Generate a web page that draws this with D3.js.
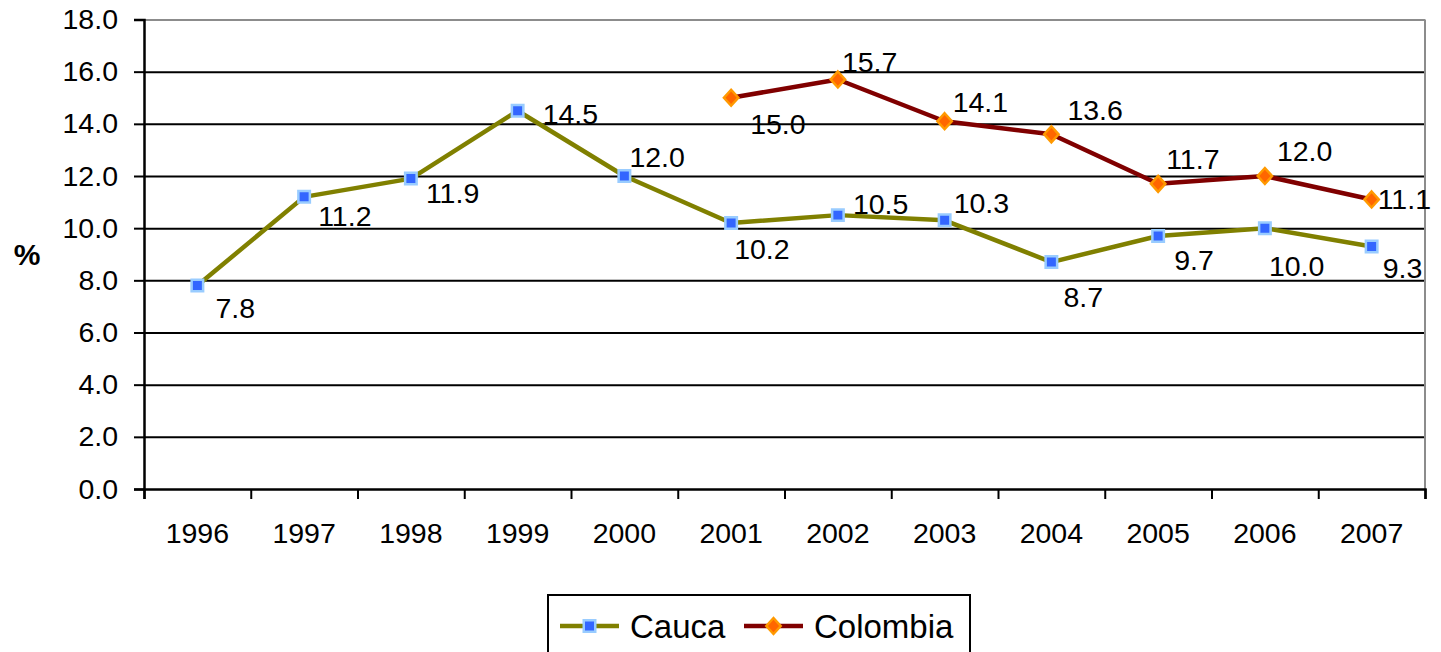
<!DOCTYPE html>
<html>
<head>
<meta charset="utf-8">
<script src="https://cdn.jsdelivr.net/npm/d3@7"></script>
<style>
  body { margin: 0; background: #fff; }
  svg { display: block; font-family: "Liberation Sans", Arial, sans-serif; }
</style>
</head>
<body>
<div id="chart"></div>
<script>
// datos
const years = ["1996", "1997", "1998", "1999", "2000", "2001", "2002", "2003", "2004", "2005", "2006", "2007"];
const cauca = [7.8, 11.2, 11.9, 14.5, 12.0, 10.2, 10.5, 10.3, 8.7, 9.7, 10.0, 9.3];
const colombia = [null, null, null, null, null, 15.0, 15.7, 14.1, 13.6, 11.7, 12.0, 11.1];
const yTicks = [0, 2, 4, 6, 8, 10, 12, 14, 16, 18];

// desplazamiento de las etiquetas (dx, dy) respecto al marcador
const caucaLabelShift = [[18, 22], [14, 19], [15, 14], [25, 3], [5, -19], [3, 26], [15, -11], [9, -17], [12, 35], [16, 24], [4, 38], [11, 22]];
const colombiaLabelShift = [null, null, null, null, null, [19, 26], [4, -17], [8, -19], [16, -24], [8, -25], [12, -25], [6, 0]];

const W = 1441, H = 652;
const pLeft = 144, pRight = 1425, pTop = 19.5, pBottom = 489;

const svg = d3.select("#chart").append("svg")
    .attr("width", W)
    .attr("height", H);

const x = d3.scaleBand().domain(years).range([pLeft, pRight]).padding(0);
const xEdge = d3.scaleLinear().domain([0, years.length]).range([pLeft, pRight]);
const y = d3.scaleLinear().domain([0, 18]).range([pBottom, pTop]);

// líneas de división
const grid = svg.append("g")
    .attr("transform", `translate(${pLeft},0)`)
    .call(d3.axisLeft(y).tickValues(yTicks.slice(1)).tickSize(-(pRight - pLeft)).tickFormat(""));
grid.select(".domain").remove();
grid.selectAll("line")
    .attr("stroke", d => d === 18 ? "#8c8c8c" : "#000")
    .attr("stroke-width", 2);

// borde derecho gris
svg.append("line")
    .attr("x1", pRight).attr("x2", pRight)
    .attr("y1", pTop).attr("y2", pBottom)
    .attr("stroke", "#8c8c8c").attr("stroke-width", 2);

// eje Y
const yAxis = svg.append("g")
    .attr("transform", `translate(${pLeft},0)`)
    .call(d3.axisLeft(y).tickValues(yTicks).tickSize(10).tickPadding(16).tickFormat(d => d.toFixed(1)));
yAxis.select(".domain").attr("stroke", "#000").attr("stroke-width", 2.5);
yAxis.selectAll("line").attr("stroke", "#000").attr("stroke-width", 2);
yAxis.selectAll("text")
    .attr("font-size", 28.5)
    .attr("fill", "#000")
    .attr("font-family", "Liberation Sans, Arial, sans-serif");

// eje X: marcas entre categorías
const xTicks = svg.append("g")
    .attr("transform", `translate(0,${pBottom})`)
    .call(d3.axisBottom(xEdge).tickValues(d3.range(years.length + 1)).tickSize(10).tickFormat(""));
xTicks.select(".domain").attr("stroke", "#000").attr("stroke-width", 2.5);
xTicks.selectAll("line").attr("stroke", "#000").attr("stroke-width", 2);

const xLabels = svg.append("g")
    .attr("transform", `translate(0,${pBottom})`)
    .call(d3.axisBottom(x).tickSize(0).tickPadding(34));
xLabels.select(".domain").remove();
xLabels.selectAll("text")
    .attr("font-size", 28.5)
    .attr("fill", "#000")
    .attr("font-family", "Liberation Sans, Arial, sans-serif");

// título del eje
svg.append("text")
    .attr("x", 27).attr("y", (pTop + pBottom) / 2)
    .attr("text-anchor", "middle")
    .attr("dominant-baseline", "central")
    .attr("font-size", 30)
    .attr("font-weight", "bold")
    .text("%");

const squareSym = d3.symbolSquare;
const diamondSym = { draw(ctx, size) {
    const r = Math.sqrt(size / 2);
    ctx.moveTo(0, -r); ctx.lineTo(r * 0.9, 0); ctx.lineTo(0, r); ctx.lineTo(-r * 0.9, 0); ctx.closePath();
} };

function drawSeries(values, shifts, lineColor, symbol, size, fill, edge) {
    const pts = years.map((yr, i) => ({ yr, v: values[i], s: shifts[i] })).filter(d => d.v != null);
    const cx = d => x(d.yr) + x.bandwidth() / 2;

    svg.append("path")
        .datum(pts)
        .attr("fill", "none")
        .attr("stroke", lineColor)
        .attr("stroke-width", 4.5)
        .attr("stroke-linejoin", "round")
        .attr("d", d3.line().x(cx).y(d => y(d.v)));

    svg.append("g").selectAll("path")
        .data(pts)
        .enter().append("path")
        .attr("transform", d => `translate(${cx(d)},${y(d.v)})`)
        .attr("d", d3.symbol().type(symbol).size(size))
        .attr("fill", fill)
        .attr("stroke", edge)
        .attr("stroke-width", 2.5);

    svg.append("g").selectAll("text")
        .data(pts)
        .enter().append("text")
        .attr("x", d => cx(d) + d.s[0])
        .attr("y", d => y(d.v) + d.s[1])
        .attr("dominant-baseline", "central")
        .attr("font-size", 28.5)
        .attr("fill", "#000")
        .text(d => d.v.toFixed(1));
}

drawSeries(cauca, caucaLabelShift, "#808000", squareSym, 132, "#3366ff", "#99ccff");
drawSeries(colombia, colombiaLabelShift, "#800000", diamondSym, 128, "#ff6600", "#ff9900");

// leyenda
const legend = svg.append("g");
legend.append("rect")
    .attr("x", 548).attr("y", 595)
    .attr("width", 422).attr("height", 70)
    .attr("fill", "#fff")
    .attr("stroke", "#000")
    .attr("stroke-width", 2);

const legendItems = [
    { name: "Cauca", color: "#808000", sym: squareSym, size: 132, fill: "#3366ff", edge: "#99ccff", x0: 560 },
    { name: "Colombia", color: "#800000", sym: diamondSym, size: 128, fill: "#ff6600", edge: "#ff9900", x0: 744 }
];
const ly = 626;
legendItems.forEach(it => {
    legend.append("line")
        .attr("x1", it.x0).attr("x2", it.x0 + 59)
        .attr("y1", ly).attr("y2", ly)
        .attr("stroke", it.color).attr("stroke-width", 4.5);
    legend.append("path")
        .attr("transform", `translate(${it.x0 + 29.5},${ly})`)
        .attr("d", d3.symbol().type(it.sym).size(it.size))
        .attr("fill", it.fill).attr("stroke", it.edge).attr("stroke-width", 2.5);
    legend.append("text")
        .attr("x", it.x0 + 70).attr("y", ly)
        .attr("dominant-baseline", "central")
        .attr("font-size", 33)
        .attr("fill", "#000")
        .text(it.name);
});
</script>
</body>
</html>
